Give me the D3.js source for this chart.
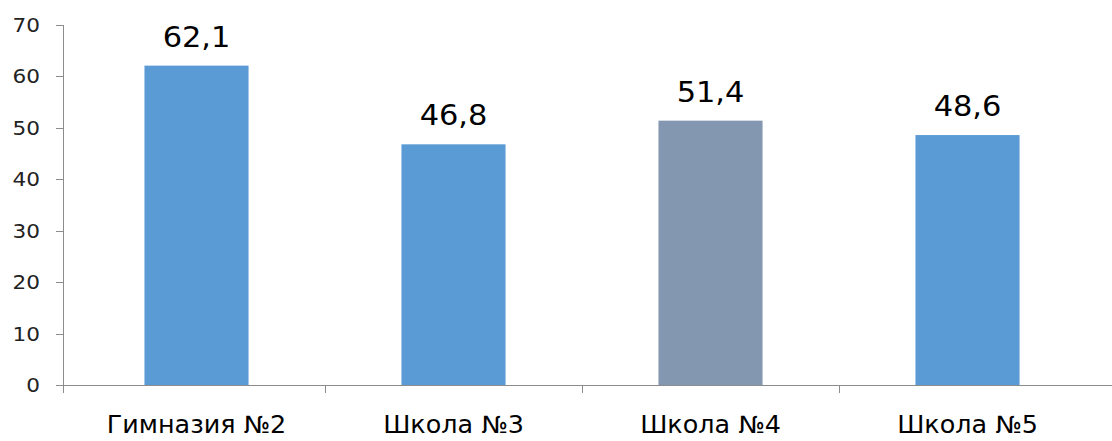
<!DOCTYPE html>
<html><head><meta charset="utf-8">
<script src="https://cdnjs.cloudflare.com/ajax/libs/d3/7.8.5/d3.min.js"></script>
<style>body{margin:0;background:#fff}svg{display:block}</style>
</head><body><svg id="c" width="1112" height="441"></svg>
<script>
const categories = ["Гимназия №2","Школа №3","Школа №4","Школа №5"];
const values = [62.1, 46.8, 51.4, 48.6];
const barColors = ["#5B9BD5","#5B9BD5","#8497B0","#5B9BD5"];
const yTicks = [0,10,20,30,40,50,60,70];

const svg = d3.select("#c");
const axisX = 63, y0 = 385, yTop = 25;
const x = d3.scaleBand().domain(categories).range([68, 1096]).padding(0);
const y = d3.scaleLinear().domain([0,70]).range([y0, yTop]);
const axisColor = "#8c8c8c";
const fmt = v => String(v).replace(".", ",");

svg.append("line").attr("x1",axisX+0.5).attr("x2",axisX+0.5).attr("y1",y(70)).attr("y2",y0+8).attr("stroke",axisColor);
yTicks.forEach(t=>{
  svg.append("line").attr("x1",axisX-7).attr("x2",axisX).attr("y1",Math.round(y(t))+0.5).attr("y2",Math.round(y(t))+0.5).attr("stroke",axisColor);
  svg.append("text").attr("transform",`translate(40,${y(t)+7}) scale(1.08,1)`)
    .attr("text-anchor","end").attr("font-family","DejaVu Sans").attr("font-size",20).attr("fill","#222").text(t);
});
const bw = x.bandwidth()*0.405;
svg.selectAll("rect.bar").data(values).enter().append("rect")
  .attr("x",(d,i)=>x(categories[i])+x.bandwidth()/2-bw/2)
  .attr("y",d=>y(d)).attr("width",bw).attr("height",d=>y0-y(d))
  .attr("fill",(d,i)=>barColors[i]);
svg.append("line").attr("x1",axisX).attr("x2",1112).attr("y1",y0+0.5).attr("y2",y0+0.5).attr("stroke",axisColor);
categories.forEach((c,i)=>{
  if(i===0) return;
  const xx = Math.round(x(c))+0.5;
  svg.append("line").attr("x1",xx).attr("x2",xx).attr("y1",y0).attr("y2",y0+8).attr("stroke",axisColor);
});
categories.forEach((c,i)=>{
  svg.append("text").attr("transform",`translate(${x(c)+x.bandwidth()/2},433) scale(1.06,1)`)
    .attr("text-anchor","middle").attr("font-family","DejaVu Sans").attr("font-size",24).attr("fill","#000").text(c);
});
values.forEach((v,i)=>{
  svg.append("text").attr("transform",`translate(${x(categories[i])+x.bandwidth()/2},${y(v)-19}) scale(1.05,1)`)
    .attr("text-anchor","middle").attr("font-family","DejaVu Sans").attr("font-size",29).attr("fill","#000").text(fmt(v));
});
</script></body></html>
